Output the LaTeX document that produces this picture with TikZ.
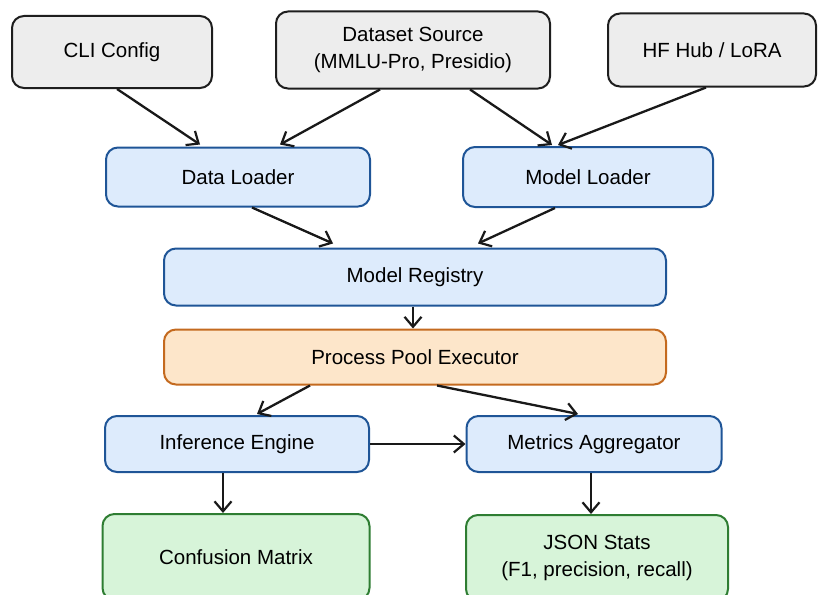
\documentclass[tikz,border=0pt]{standalone}
\usepackage{fontspec}
\setmainfont{Liberation Sans}
\usepackage{xcolor}
\usetikzlibrary{arrows.meta,patterns}
\definecolor{srcfill}{HTML}{EDEDED}
\definecolor{srcline}{HTML}{1E1E1E}
\definecolor{modfill}{HTML}{DDEBFC}
\definecolor{modline}{HTML}{1F5597}
\definecolor{poolfill}{HTML}{FDE6CA}
\definecolor{poolline}{HTML}{C46A1F}
\definecolor{outfill}{HTML}{D7F4D9}
\definecolor{outline}{HTML}{2E7D32}
\tikzstyle{flow}=[
  x=1pt,y=-1pt,>={Straight Barb[length=10pt,width=17pt,line width=2.2pt]},
  font=\fontsize{20.5}{27}\selectfont
]
\tikzstyle{box}=[
  draw,rounded corners=12pt,line width=2pt,align=center,inner sep=0pt
]
\tikzstyle{srcbox}=[box,draw=srcline,fill=srcfill]
\tikzstyle{modbox}=[box,draw=modline,fill=modfill]
\tikzstyle{poolbox}=[box,draw=poolline,fill=poolfill]
\tikzstyle{outbox}=[box,draw=outline,fill=outfill]
\tikzstyle{link}=[->,line width=2.3pt,black!90]

\begin{document}
\begin{tikzpicture}[flow]
    \useasboundingbox (0,0) rectangle (818,594);
    % sources
    \node (cli) at (112,52) [srcbox,minimum width=200pt,minimum height=72pt] {CLI Config};
    \node (src) at (413,50) [srcbox,minimum width=274pt,minimum height=77pt] {Dataset Source\\(MMLU-Pro, Presidio)};
    \node (hub) at (712,50) [srcbox,minimum width=208pt,minimum height=73pt] {HF Hub / LoRA};
    % loaders
    \node (dload) at (238,177) [modbox,minimum width=264pt,minimum height=59pt] {Data Loader};
    \node (mload) at (588,177) [modbox,minimum width=250pt,minimum height=60pt] {Model Loader};
    \node (reg) at (415,277) [modbox,minimum width=502pt,minimum height=57pt] {Model Registry};
    \node (pool) at (415,357) [poolbox,minimum width=502pt,minimum height=55pt] {Process Pool Executor};
    \node (infer) at (237,444) [modbox,minimum width=264pt,minimum height=56pt] {Inference Engine};
    \node (metric) at (594,444) [modbox,minimum width=255pt,minimum height=56pt] {Metrics Aggregator};
    % outputs
    \node (conf) at (236,557) [outbox,minimum width=267pt,minimum height=86pt] {Confusion Matrix};
    \node (json) at (597,558) [outbox,minimum width=262pt,minimum height=86pt] {JSON Stats\\(F1, precision, recall)};

    \draw [link] ([xshift=5pt]cli.south) -- ([xshift=-38pt,yshift=2pt]dload.north);
    \draw [link] ([xshift=-33pt]src.south) -- ([xshift=42pt,yshift=2pt]dload.north);
    \draw [link] ([xshift=57pt]src.south) -- ([xshift=-36pt,yshift=1pt]mload.north);
    \draw [link] ([xshift=-6pt]hub.south) -- ([xshift=-30pt,yshift=1pt]mload.north);
    \draw [link] ([xshift=14pt]dload.south) -- ([xshift=-82pt,yshift=4pt]reg.north);
    \draw [link] ([xshift=-33pt]mload.south) -- ([xshift=63pt,yshift=4pt]reg.north);
    \draw [link] ([xshift=-2pt]reg.south) -- ([xshift=-2pt]pool.north);
    \draw [link] ([xshift=-105pt]pool.south) -- ([xshift=20pt,yshift=1pt]infer.north);
    \draw [link] ([xshift=22pt]pool.south) -- ([xshift=-16pt,yshift=1pt]metric.north);
    \draw [link] (infer.east) -- (metric.west);
    \draw [link] ([xshift=-14pt]infer.south) -- ([xshift=-13pt]conf.north);
    \draw [link] ([xshift=-3pt]metric.south) -- ([xshift=-6pt]json.north);
\end{tikzpicture}
\end{document}
